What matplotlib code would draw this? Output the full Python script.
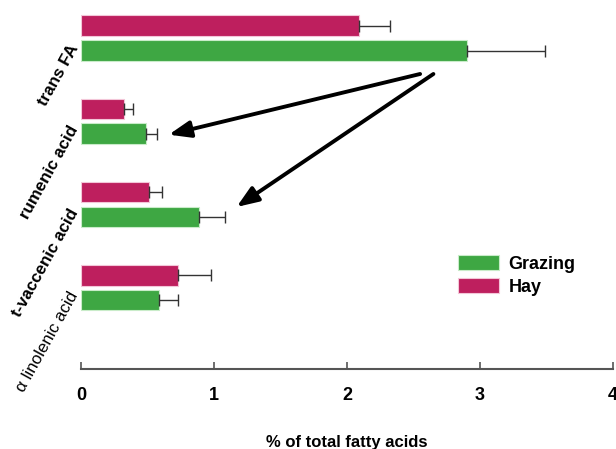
import numpy as np
import matplotlib.pyplot as plt

plt.rcParams['font.family'] = ['Liberation Sans', 'DejaVu Sans']

# data, top group first
categories = ["trans FA", "rumenic acid", "t-vaccenic acid", "\u03b1 linolenic acid"]
hay_mean = [2.09, 0.32, 0.51, 0.73]
hay_err = [0.23, 0.07, 0.10, 0.25]
grazing_mean = [2.90, 0.49, 0.89, 0.59]
grazing_err = [0.59, 0.08, 0.19, 0.14]

# arrows (start x, start y, end x, end y) in data units
arrows = [(2.55, 2.57, 0.66, 1.84), (2.65, 2.57, 1.17, 0.97)]

col_hay = '#BE1F5E'
col_grz = '#3EA743'

fig = plt.figure(figsize=(6.16, 4.49), dpi=100)
ax = fig.add_axes([0.1315, 0.178, 0.8635, 0.822])

ypos = np.arange(len(categories))[::-1].astype(float)
h = 0.25
off = 0.15

ax.barh(ypos + off, hay_mean, height=h, color=col_hay, edgecolor='#f3c6d8', linewidth=0.8,
        label='Hay', zorder=2)
ax.barh(ypos - off, grazing_mean, height=h, color=col_grz, edgecolor='#c9ecc9', linewidth=0.8,
        label='Grazing', zorder=2)

ekw = dict(fmt='none', ecolor='#333333', elinewidth=1.0, capsize=4, capthick=1.0, zorder=3)
ax.errorbar(hay_mean, ypos + off, xerr=[np.zeros(len(hay_err)), hay_err], **ekw)
ax.errorbar(grazing_mean, ypos - off, xerr=[np.zeros(len(grazing_err)), grazing_err], **ekw)

for x0, y0, x1, y1 in arrows:
    ax.annotate('', xy=(x1, y1), xytext=(x0, y0),
                arrowprops=dict(arrowstyle='-|>,head_length=1.3,head_width=0.5',
                                color='black', lw=2.8, shrinkA=0, shrinkB=0))

ax.set_xlim(0, 4)
ax.set_ylim(-0.98, 3.46)
ax.set_xticks([0, 1, 2, 3, 4])
ax.tick_params(axis='x', direction='in', length=5, width=1.2, color='#555555',
               labelsize=13, pad=13)
for lbl in ax.get_xticklabels():
    lbl.set_fontweight('bold')

# category labels, rotated, placed next to each group
ax.set_yticks([])
for i, (yy, name) in enumerate(zip(ypos, categories)):
    ax.annotate(name, xy=(0, yy), xycoords=('axes fraction', 'data'),
                xytext=(-4.5, -4 if i else -5.5), textcoords='offset points',
                rotation=61, rotation_mode='anchor', ha='right', va='center',
                fontsize=12.2, fontweight='normal' if i == 3 else 'bold')

for s in ['top', 'right', 'left']:
    ax.spines[s].set_visible(False)
ax.spines['bottom'].set_color('#555555')
ax.spines['bottom'].set_linewidth(1.5)

ax.set_xlabel('% of total fatty acids', fontsize=12, fontweight='bold', labelpad=22)

handles, labels = ax.get_legend_handles_labels()
ax.legend(handles[::-1], labels[::-1], loc='upper left', bbox_to_anchor=(0.678, 0.352),
          frameon=False, prop=dict(size=13, weight='bold'),
          handlelength=2.3, handleheight=0.85, labelspacing=0.3, handletextpad=0.5)

fig.savefig('out.png', dpi=100)
